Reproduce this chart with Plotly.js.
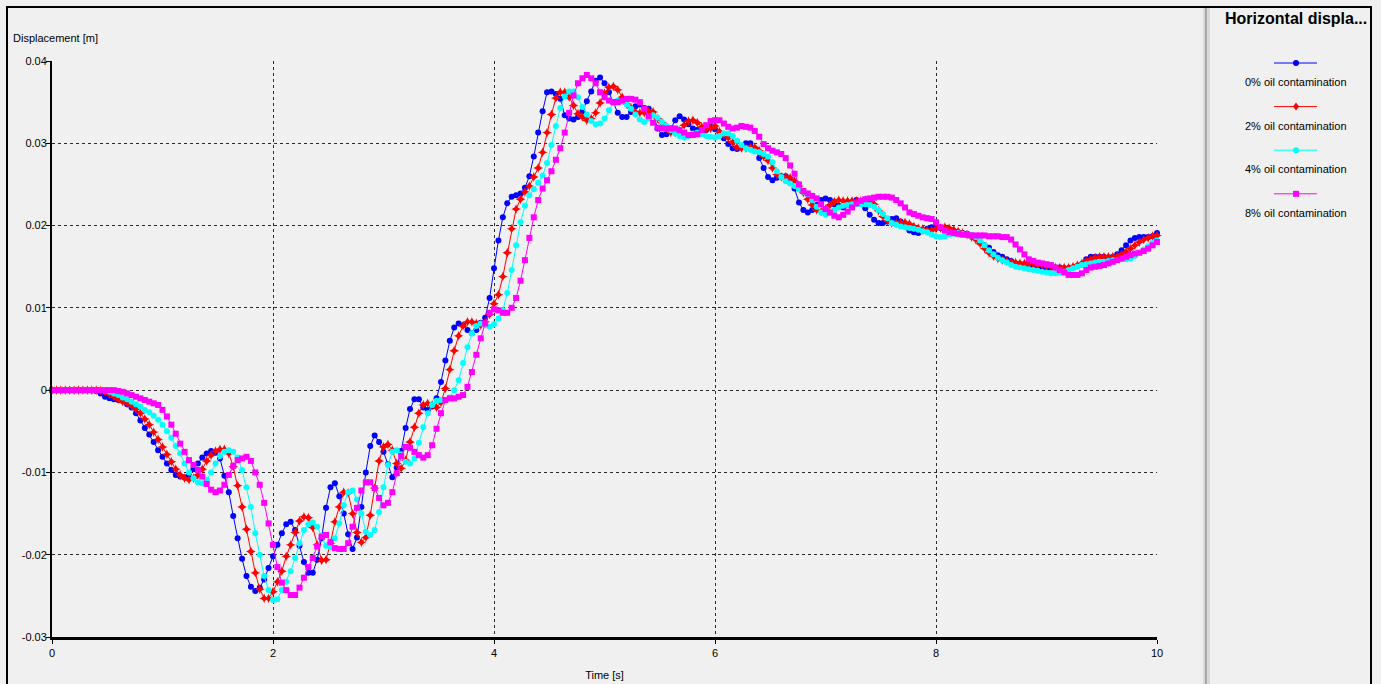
<!DOCTYPE html>
<html>
<head>
<meta charset="utf-8">
<script src="https://cdn.plot.ly/plotly-3.0.1.min.js"></script>
<style>
html, body { margin: 0; padding: 0; background: #f0f0f0; overflow: hidden; }
#chart { width: 1381px; height: 684px; }
</style>
</head>
<body>
<div id="chart"></div>
<script>
// ---------------- data ----------------
const seriesNames = ["0% oil contamination", "2% oil contamination", "4% oil contamination", "8% oil contamination"];
const timeStep = 0.04;          // s, sampling interval of the simulation output
const sampleCount = 251;        // 0 s .. 10 s
const time = Array.from({length: sampleCount}, (_, i) => Math.round(i * timeStep * 100) / 100);

const xTickVals = [0, 2, 4, 6, 8, 10];
const xTickText = ["0", "2", "4", "6", "8", "10"];
const yTickVals = [-0.03, -0.02, -0.01, 0, 0.01, 0.02, 0.03, 0.04];
const yTickText = ["-0.03", "-0.02", "-0.01", "0", "0.01", "0.02", "0.03", "0.04"];

// Horizontal displacement [m], one value per time sample
const disp0 = [
0,0,0,0,0,0,0,0,0,0,-0.0001,-0.0004,-0.0008,-0.0010,-0.0011,-0.0012,-0.0013,-0.0017,-0.0021,-0.0028,-0.0037,-0.0046,-0.0054,-0.0063,-0.0073,
-0.0081,-0.0089,-0.0097,-0.0103,-0.0105,-0.0106,-0.0103,-0.0096,-0.0089,-0.0082,-0.0077,-0.0074,-0.0076,-0.0083,-0.0104,-0.0124,-0.0153,-0.0180,-0.0205,-0.0226,-0.0239,-0.0244,-0.0240,-0.0230,-0.0216,
-0.0202,-0.0188,-0.0174,-0.0163,-0.0160,-0.0170,-0.0189,-0.0209,-0.0222,-0.0222,-0.0206,-0.0180,-0.0143,-0.0118,-0.0113,-0.0129,-0.0150,-0.0175,-0.0193,-0.0179,-0.0142,-0.0100,-0.0068,-0.0055,-0.0063,
-0.0075,-0.0090,-0.0106,-0.0094,-0.0074,-0.0046,-0.0023,-0.0011,-0.0011,-0.0021,-0.0024,-0.0020,-0.0010,0.0010,0.0036,0.0060,0.0076,0.0081,0.0079,0.0073,0.0069,0.0073,0.0082,0.0088,0.0112,
0.0148,0.0182,0.0210,0.0227,0.0235,0.0237,0.0239,0.0246,0.0260,0.0284,0.0313,0.0339,0.0362,0.0363,0.0360,0.0354,0.0334,0.0330,0.0329,0.0332,0.0339,0.0351,0.0363,0.0376,0.0380,
0.0373,0.0362,0.0350,0.0337,0.0332,0.0332,0.0338,0.0345,0.0347,0.0343,0.0342,0.0336,0.0318,0.0310,0.0311,0.0318,0.0328,0.0333,0.0329,0.0323,0.0318,0.0316,0.0313,0.0316,0.0320,
0.0317,0.0313,0.0306,0.0299,0.0294,0.0293,0.0296,0.0300,0.0300,0.0294,0.0282,0.0270,0.0259,0.0255,0.0258,0.0260,0.0260,0.0254,0.0245,0.0228,0.0219,0.0216,0.0219,0.0225,0.0231,
0.0233,0.0231,0.0226,0.0224,0.0222,0.0225,0.0227,0.0231,0.0228,0.0221,0.0213,0.0207,0.0203,0.0203,0.0205,0.0208,0.0209,0.0205,0.0199,0.0194,0.0192,0.0191,0.0193,0.0196,0.0198,
0.0198,0.0197,0.0196,0.0194,0.0193,0.0192,0.0191,0.0190,0.0188,0.0185,0.0181,0.0176,0.0173,0.0168,0.0164,0.0162,0.0159,0.0157,0.0154,0.0153,0.0153,0.0152,0.0151,0.0149,0.0148,
0.0148,0.0149,0.0149,0.0149,0.0148,0.0148,0.0149,0.0151,0.0153,0.0159,0.0162,0.0162,0.0162,0.0162,0.0160,0.0162,0.0165,0.0170,0.0176,0.0182,0.0185,0.0186,0.0186,0.0186,0.0187,
0.0191
];

const disp2 = [
0,0,0,0,0,0,0,0,0,0,0,-0.00005,-0.0002,-0.0005,-0.0008,-0.0011,-0.0014,-0.0016,-0.0019,-0.0023,-0.0028,-0.0035,-0.0042,-0.0051,-0.0060,
-0.0069,-0.0078,-0.0087,-0.0096,-0.0103,-0.0107,-0.0109,-0.0107,-0.0103,-0.0096,-0.0086,-0.0079,-0.0074,-0.0072,-0.0072,-0.0077,-0.0093,-0.0116,-0.0142,-0.0169,-0.0196,-0.0222,-0.0242,-0.0253,-0.0253,
-0.0245,-0.0233,-0.0220,-0.0202,-0.0188,-0.0173,-0.0159,-0.0154,-0.0155,-0.0167,-0.0188,-0.0207,-0.0206,-0.0186,-0.0160,-0.0142,-0.0124,-0.0125,-0.0150,-0.0173,-0.0185,-0.0179,-0.0152,-0.0119,-0.0086,
-0.0069,-0.0066,-0.0073,-0.0089,-0.0095,-0.0085,-0.0063,-0.0045,-0.0028,-0.0018,-0.0016,-0.0018,-0.0021,-0.0015,0.0002,0.0025,0.0048,0.0066,0.0078,0.0083,0.0083,0.0081,0.0079,0.0083,0.0092,
0.0105,0.0116,0.0138,0.0167,0.0196,0.0220,0.0232,0.0241,0.0248,0.0259,0.0270,0.0289,0.0313,0.0335,0.0355,0.0362,0.0362,0.0356,0.0346,0.0336,0.0332,0.0328,0.0330,0.0337,0.0349,
0.0361,0.0368,0.0369,0.0365,0.0356,0.0348,0.0343,0.0338,0.0337,0.0337,0.0339,0.0338,0.0330,0.0325,0.0319,0.0313,0.0313,0.0315,0.0322,0.0327,0.0328,0.0325,0.0320,0.0317,0.0318,
0.0321,0.0314,0.0310,0.0307,0.0301,0.0295,0.0294,0.0294,0.0295,0.0295,0.0291,0.0284,0.0279,0.0270,0.0262,0.0259,0.0259,0.0258,0.0254,0.0248,0.0240,0.0232,0.0225,0.0219,0.0217,
0.0220,0.0225,0.0229,0.0231,0.0230,0.0230,0.0230,0.0230,0.0230,0.0231,0.0230,0.0226,0.0218,0.0211,0.0206,0.0203,0.0203,0.0204,0.0204,0.0202,0.0199,0.0197,0.0196,0.0194,0.0194,
0.0196,0.0197,0.0198,0.0197,0.0195,0.0193,0.0191,0.0189,0.0186,0.0183,0.0178,0.0172,0.0167,0.0163,0.0160,0.0158,0.0157,0.0156,0.0155,0.0154,0.0154,0.0153,0.0153,0.0152,0.0152,
0.0151,0.0150,0.0149,0.0149,0.0149,0.0149,0.0150,0.0152,0.0154,0.0157,0.0159,0.0161,0.0162,0.0162,0.0162,0.0162,0.0163,0.0165,0.0168,0.0172,0.0176,0.0180,0.0183,0.0185,0.0187,
0.0188
];

const disp4 = [
0,0,0,0,0,0,0,0,0,0,0,0,-0.00005,-0.0002,-0.0004,-0.0006,-0.0009,-0.0011,-0.0014,-0.0017,-0.0020,-0.0024,-0.0027,-0.0031,-0.0036,
-0.0042,-0.0050,-0.0058,-0.0068,-0.0077,-0.0089,-0.0100,-0.0107,-0.0112,-0.0113,-0.0109,-0.0100,-0.0089,-0.0080,-0.0075,-0.0073,-0.0075,-0.0082,-0.0097,-0.0118,-0.0142,-0.0174,-0.0200,-0.0226,-0.0243,
-0.0255,-0.0254,-0.0243,-0.0233,-0.0220,-0.0204,-0.0186,-0.0170,-0.0163,-0.0161,-0.0166,-0.0177,-0.0189,-0.0191,-0.0180,-0.0162,-0.0140,-0.0124,-0.0122,-0.0133,-0.0150,-0.0172,-0.0176,-0.0170,-0.0148,
-0.0118,-0.0091,-0.0075,-0.0073,-0.0078,-0.0087,-0.0089,-0.0083,-0.0064,-0.0045,-0.0028,-0.0018,-0.0013,-0.0012,-0.0012,-0.0009,0.0000,0.0012,0.0033,0.0052,0.0069,0.0078,0.0081,0.0079,0.0077,
0.0080,0.0087,0.0097,0.0118,0.0146,0.0176,0.0204,0.0224,0.0237,0.0244,0.0252,0.0261,0.0276,0.0298,0.0321,0.0343,0.0357,0.0363,0.0363,0.0356,0.0344,0.0335,0.0327,0.0323,0.0324,
0.0330,0.0340,0.0349,0.0352,0.0351,0.0347,0.0342,0.0335,0.0329,0.0326,0.0330,0.0334,0.0331,0.0326,0.0321,0.0316,0.0312,0.0309,0.0307,0.0309,0.0312,0.0313,0.0311,0.0309,0.0308,
0.0307,0.0309,0.0312,0.0312,0.0309,0.0303,0.0298,0.0294,0.0292,0.0290,0.0289,0.0287,0.0284,0.0277,0.0266,0.0259,0.0254,0.0251,0.0248,0.0244,0.0241,0.0238,0.0231,0.0223,0.0216,
0.0213,0.0215,0.0219,0.0222,0.0224,0.0225,0.0226,0.0226,0.0226,0.0226,0.0225,0.0223,0.0219,0.0214,0.0209,0.0203,0.0201,0.0199,0.0198,0.0197,0.0196,0.0195,0.0193,0.0192,0.0189,
0.0187,0.0186,0.0187,0.0189,0.0190,0.0191,0.0190,0.0189,0.0188,0.0186,0.0182,0.0176,0.0170,0.0165,0.0161,0.0158,0.0155,0.0152,0.0150,0.0149,0.0148,0.0147,0.0146,0.0145,0.0144,
0.0143,0.0142,0.0142,0.0143,0.0144,0.0146,0.0148,0.0150,0.0152,0.0153,0.0154,0.0155,0.0156,0.0156,0.0157,0.0158,0.0158,0.0159,0.0159,0.0160,0.0163,0.0167,0.0171,0.0175,0.0179,
0.0182
];

const disp8 = [
0,0,0,0,0,0,0,0,0,0,0,0,0,0,0,-0.0001,-0.0002,-0.0004,-0.0006,-0.0008,-0.0010,-0.0012,-0.0014,-0.0016,-0.0018,
-0.0024,-0.0032,-0.0042,-0.0053,-0.0065,-0.0075,-0.0085,-0.0091,-0.0097,-0.0105,-0.0114,-0.0121,-0.0124,-0.0122,-0.0115,-0.0103,-0.0092,-0.0085,-0.0083,-0.0081,-0.0086,-0.0100,-0.0115,-0.0137,-0.0162,
-0.0188,-0.0215,-0.0234,-0.0243,-0.0249,-0.0249,-0.0240,-0.0228,-0.0215,-0.0204,-0.0190,-0.0178,-0.0176,-0.0185,-0.0192,-0.0193,-0.0193,-0.0186,-0.0166,-0.0143,-0.0122,-0.0112,-0.0112,-0.0119,-0.0131,
-0.0140,-0.0137,-0.0124,-0.0101,-0.0080,-0.0069,-0.0070,-0.0075,-0.0079,-0.0082,-0.0079,-0.0067,-0.0047,-0.0028,-0.0012,-0.0010,-0.0010,-0.0008,-0.0006,0.0004,0.0022,0.0043,0.0063,0.0081,0.0094,
0.0098,0.0097,0.0094,0.0094,0.0100,0.0112,0.0133,0.0158,0.0185,0.0210,0.0231,0.0245,0.0255,0.0266,0.0280,0.0294,0.0313,0.0337,0.0358,0.0373,0.0379,0.0383,0.0379,0.0373,0.0362,
0.0356,0.0352,0.0350,0.0350,0.0352,0.0354,0.0354,0.0353,0.0350,0.0342,0.0333,0.0325,0.0319,0.0318,0.0318,0.0318,0.0318,0.0316,0.0313,0.0310,0.0310,0.0311,0.0316,0.0322,0.0327,
0.0328,0.0328,0.0324,0.0320,0.0318,0.0319,0.0321,0.0320,0.0319,0.0315,0.0308,0.0299,0.0294,0.0291,0.0289,0.0287,0.0282,0.0273,0.0263,0.0250,0.0242,0.0239,0.0236,0.0233,0.0226,
0.0220,0.0216,0.0212,0.0210,0.0213,0.0217,0.0222,0.0227,0.0230,0.0232,0.0233,0.0234,0.0235,0.0235,0.0235,0.0234,0.0231,0.0227,0.0222,0.0216,0.0214,0.0212,0.0210,0.0209,0.0208,
0.0204,0.0198,0.0194,0.0192,0.0191,0.0190,0.0189,0.0189,0.0188,0.0188,0.0188,0.0188,0.0187,0.0187,0.0187,0.0186,0.0186,0.0183,0.0177,0.0171,0.0165,0.0159,0.0157,0.0155,0.0154,
0.0153,0.0152,0.0149,0.0146,0.0143,0.0140,0.0140,0.0140,0.0142,0.0146,0.0149,0.0150,0.0151,0.0152,0.0154,0.0156,0.0158,0.0160,0.0162,0.0164,0.0166,0.0167,0.0169,0.0172,0.0176,
0.0180
];

// ---------------- styles ----------------
const FONT = "Liberation Sans, Arial, sans-serif";
const colors = ["#0000ff", "#ff0000", "#00ffff", "#ff00ff"];
const symbols = ["circle", "star-diamond", "circle", "square"];
const markerSizes = [6, 7, 6, 6];
const seriesData = [disp0, disp2, disp4, disp8];

// plot area in pixels
const PL = 52, PR = 1157, PT = 61, PB = 637;
const W = 1381, H = 684;
const px2x = px => (px - PL) / (PR - PL);
const py2y = py => (PB - py) / (PB - PT);

const traces = seriesData.map((ys, k) => ({
  type: "scatter",
  mode: "lines+markers",
  name: seriesNames[k],
  x: time,
  y: ys,
  line: {color: colors[k], width: 1},
  marker: {color: colors[k], symbol: symbols[k], size: markerSizes[k], line: {width: 0}},
  cliponaxis: false,
  showlegend: false
}));

// ---------------- frame, legend panel ----------------
const shapes = [];
const annotations = [];

// outer panel border
shapes.push({type: "rect", xref: "paper", yref: "paper",
  x0: px2x(7), x1: px2x(1371), y0: py2y(700), y1: py2y(7),
  line: {color: "#000000", width: 2}, fillcolor: "rgba(0,0,0,0)", layer: "above"});
// splitter between chart and legend
shapes.push({type: "rect", xref: "paper", yref: "paper",
  x0: px2x(1203), x1: px2x(1210), y0: py2y(700), y1: py2y(8),
  line: {width: 0}, fillcolor: "#d9d9d9", layer: "above"});
shapes.push({type: "line", xref: "paper", yref: "paper",
  x0: px2x(1206), x1: px2x(1206), y0: py2y(700), y1: py2y(8),
  line: {color: "#a8a8a8", width: 2}, layer: "above"});

// legend title
annotations.push({xref: "paper", yref: "paper", x: px2x(1296), y: py2y(18),
  xanchor: "center", yanchor: "middle", showarrow: false,
  text: "<b>Horizontal displa...</b>", font: {family: FONT, size: 16, color: "#000000"}});

const legendLineY = [63, 106.6, 150.2, 193.8];
seriesNames.forEach((nm, k) => {
  const ly = legendLineY[k];
  shapes.push({type: "line", xref: "paper", yref: "paper",
    x0: px2x(1274), x1: px2x(1317), y0: py2y(ly), y1: py2y(ly),
    line: {color: colors[k], width: 1}, layer: "above"});
  const cx = px2x(1296), cy = py2y(ly);
  const common = {xref: "paper", yref: "paper", xsizemode: "pixel", ysizemode: "pixel",
    xanchor: cx, yanchor: cy, fillcolor: colors[k], line: {width: 0}, layer: "above"};
  if (symbols[k] === "circle") {
    shapes.push(Object.assign({type: "circle", x0: -3, x1: 3, y0: -3, y1: 3}, common));
  } else if (symbols[k] === "square") {
    shapes.push(Object.assign({type: "rect", x0: -3, x1: 3, y0: -3, y1: 3}, common));
  } else {
    shapes.push(Object.assign({type: "path", path: "M0,4 L3,0 L0,-4 L-3,0 Z"}, common));
  }
  annotations.push({xref: "paper", yref: "paper", x: px2x(1296), y: py2y(ly + 19),
    xanchor: "center", yanchor: "middle", showarrow: false,
    text: nm, font: {family: FONT, size: 11, color: "#000000"}});
});

// y-axis caption (horizontal, top-left)
annotations.push({xref: "paper", yref: "paper", x: px2x(11), y: py2y(38),
  xanchor: "left", yanchor: "middle", showarrow: false,
  text: "Displacement [m]", font: {family: FONT, size: 11, color: "#000000"}});

const gridCommon = {
  showgrid: true, gridcolor: "#2a2a2a", gridwidth: 1, griddash: "3px,3px",
  zeroline: false, showline: true, linecolor: "#000000",
  ticks: "outside", tickcolor: "#000000", tickwidth: 1,
  tickfont: {family: FONT, size: 11, color: "#000000"},
  fixedrange: true
};

const layout = {
  width: W, height: H,
  paper_bgcolor: "#f0f0f0", plot_bgcolor: "#f0f0f0",
  margin: {l: PL, r: W - PR, t: PT, b: H - PB, pad: 0},
  showlegend: false,
  hovermode: false,
  font: {family: FONT, size: 11, color: "#000000"},
  xaxis: Object.assign({}, gridCommon, {
    range: [0, 10], tickmode: "array", tickvals: xTickVals, ticktext: xTickText,
    linewidth: 3, ticklen: 4,
    title: {text: "Time [s]", font: {family: FONT, size: 11, color: "#000000"}, standoff: 14},
    automargin: false
  }),
  yaxis: Object.assign({}, gridCommon, {
    range: [-0.03, 0.04], tickmode: "array", tickvals: yTickVals, ticktext: yTickText,
    linewidth: 2, ticklen: 4, ticklabelstandoff: -3,
    automargin: false
  }),
  shapes: shapes,
  annotations: annotations
};

Plotly.newPlot("chart", traces, layout, {staticPlot: true, displayModeBar: false});
</script>
</body>
</html>
